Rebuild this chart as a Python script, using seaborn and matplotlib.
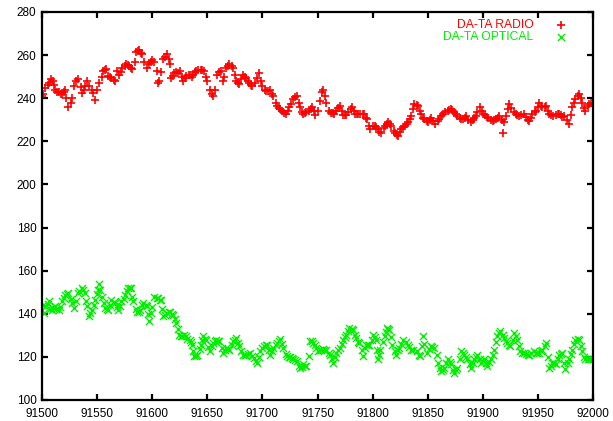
import pandas as pd
import matplotlib
matplotlib.use("Agg")
import matplotlib.pyplot as plt
import seaborn as sns

# === DATA ===
radio_day = [91500, 91501, 91503, 91505, 91506, 91508, 91510, 91511, 91512, 91514, 91515, 91517, 91518, 91520, 91521, 91522, 91524, 91526, 91527, 91529,
             91531, 91533, 91535, 91536, 91538, 91539, 91541, 91543, 91545, 91546, 91548, 91550, 91552, 91554, 91555, 91557, 91558, 91560, 91562, 91563,
             91565, 91566, 91568, 91570, 91572, 91573, 91575, 91576, 91578, 91579, 91581, 91582, 91584, 91585, 91587, 91588, 91590, 91591, 91593, 91595,
             91597, 91599, 91600, 91602, 91604, 91605, 91606, 91608, 91610, 91612, 91613, 91615, 91616, 91617, 91619, 91620, 91622, 91623, 91625, 91627,
             91628, 91630, 91631, 91633, 91634, 91636, 91637, 91639, 91640, 91642, 91644, 91645, 91647, 91649, 91650, 91652, 91654, 91655, 91657, 91659,
             91661, 91662, 91664, 91665, 91667, 91669, 91670, 91672, 91673, 91675, 91676, 91678, 91679, 91681, 91682, 91684, 91685, 91687, 91688, 91690,
             91691, 91693, 91695, 91697, 91699, 91700, 91702, 91703, 91705, 91707, 91709, 91710, 91712, 91713, 91715, 91716, 91718, 91720, 91721, 91723,
             91724, 91726, 91728, 91730, 91731, 91733, 91734, 91736, 91737, 91739, 91740, 91742, 91744, 91745, 91747, 91748, 91750, 91752, 91754, 91755,
             91757, 91758, 91760, 91762, 91764, 91765, 91767, 91769, 91770, 91772, 91773, 91775, 91776, 91778, 91780, 91781, 91783, 91784, 91786, 91787,
             91789, 91791, 91792, 91794, 91795, 91797, 91798, 91800, 91802, 91803, 91805, 91806, 91808, 91810, 91811, 91813, 91814, 91816, 91817, 91819,
             91820, 91822, 91823, 91825, 91826, 91828, 91829, 91831, 91832, 91834, 91835, 91837, 91838, 91840, 91841, 91843, 91844, 91846, 91847, 91849,
             91850, 91852, 91853, 91855, 91857, 91859, 91860, 91862, 91864, 91866, 91868, 91869, 91871, 91872, 91874, 91876, 91877, 91879, 91880, 91882,
             91884, 91885, 91887, 91889, 91891, 91892, 91894, 91895, 91897, 91899, 91900, 91902, 91904, 91905, 91907, 91909, 91910, 91912, 91914, 91915,
             91917, 91918, 91919, 91921, 91923, 91924, 91926, 91928, 91930, 91931, 91933, 91935, 91937, 91939, 91941, 91942, 91944, 91945, 91947, 91948,
             91950, 91951, 91953, 91954, 91956, 91957, 91959, 91960, 91962, 91964, 91966, 91968, 91969, 91971, 91972, 91974, 91976, 91978, 91980, 91981,
             91983, 91984, 91986, 91987, 91989, 91990, 91992, 91993, 91995, 91996, 91998, 92000]
radio_val = [241, 242, 244.6, 246, 247, 249, 248, 246, 244, 243, 243, 242, 242, 243, 243.7, 240, 236, 238, 240, 245.7,
             248, 248.8, 245, 242.6, 244, 245.7, 248, 245.7, 244, 242.6, 239, 243.7, 247, 250, 252.6, 253, 253.4, 250.3, 250, 249.5,
             248.5, 248, 252.6, 250.8, 252, 254, 255, 256, 255.5, 255, 254, 253.4, 257, 261.5, 262, 262.6, 261, 260.3, 257, 254,
             256, 257, 257.5, 257, 252.6, 247, 248, 252, 258, 259, 260.3, 258, 255.7, 249.5, 250.5, 251.8, 252, 251.5, 252.6, 250,
             248, 249.5, 250.3, 251, 251, 250, 251, 252, 252.6, 253, 253, 253, 252.6, 250, 248, 244, 242, 241, 244, 251,
             252, 252.6, 248, 250, 254, 255, 255.7, 255, 254, 251, 248, 247, 246.5, 249, 250.8, 250, 249.5, 248, 247, 246,
             245.7, 247, 249.5, 251.8, 248, 245.7, 244, 243.4, 243.5, 244, 242, 241, 238, 236.5, 235.5, 235, 234, 233, 232.6, 234,
             235.7, 237.5, 239.5, 240.5, 241, 238, 235.7, 233.5, 232.6, 233, 233.4, 234, 235, 235.7, 234, 232, 234, 238.8, 243, 243.7,
             241, 238, 234, 233, 233, 232.6, 234, 235.5, 236.5, 234, 232, 232, 232, 233.5, 235, 235.7, 234, 232.6, 232.6, 232.6,
             232.6, 232.6, 232.6, 231, 230.3, 227, 225.7, 227, 227, 226.8, 225.5, 224.5, 224, 226, 227, 228, 228.8, 228, 227, 225,
             224, 223, 222.6, 224.5, 225.7, 226.5, 227, 228, 228.8, 230.5, 231.8, 235, 237.2, 237, 236.5, 234, 232.6, 231, 230.3, 229.5,
             228.8, 230, 231, 229.5, 228, 229.5, 230.5, 231.8, 232.5, 233.4, 234, 234.5, 235, 234.5, 233.4, 232.5, 231.8, 231, 230.5, 230.3,
             231, 231.8, 230, 228.8, 230, 231, 231.8, 233.5, 235.7, 234, 232.6, 232, 231.5, 231, 230, 229.5, 230, 230.3, 231, 231.8,
             230, 224, 228.8, 231.8, 235, 237.2, 235.5, 233.4, 232.5, 232, 231.8, 232, 232.6, 231.5, 230, 229.5, 231, 232.6, 233.5, 234,
             236, 238, 236.5, 235.7, 236, 236.5, 234, 232.6, 232, 231.8, 232, 232.5, 232.6, 232, 231.5, 231.8, 230, 228, 232, 235.7,
             238, 239.5, 241, 242, 240, 238, 235.5, 234, 236.5, 237.5, 238, 237.2]

optical_day = [91500, 91501, 91502, 91503, 91505, 91506, 91507, 91509, 91510, 91512, 91513, 91515, 91516, 91518, 91520, 91521, 91523, 91524, 91526, 91527,
               91529, 91531, 91533, 91534, 91536, 91537, 91539, 91540, 91541, 91543, 91544, 91545, 91547, 91548, 91550, 91551, 91552, 91553, 91554, 91556,
               91557, 91559, 91560, 91562, 91563, 91565, 91566, 91568, 91569, 91571, 91572, 91574, 91575, 91577, 91578, 91580, 91581, 91582, 91583, 91585,
               91586, 91588, 91589, 91591, 91592, 91594, 91595, 91596, 91597, 91599, 91600, 91602, 91604, 91605, 91607, 91608, 91609, 91610, 91612, 91613,
               91615, 91616, 91618, 91619, 91621, 91622, 91623, 91624, 91626, 91627, 91629, 91631, 91632, 91634, 91635, 91636, 91637, 91638, 91640, 91641,
               91643, 91644, 91645, 91646, 91648, 91649, 91651, 91652, 91654, 91655, 91657, 91658, 91660, 91661, 91663, 91664, 91666, 91667, 91669, 91670,
               91672, 91673, 91675, 91676, 91678, 91679, 91681, 91682, 91684, 91685, 91687, 91689, 91691, 91692, 91694, 91695, 91697, 91698, 91700, 91701,
               91703, 91704, 91706, 91707, 91709, 91710, 91712, 91713, 91715, 91716, 91718, 91719, 91721, 91722, 91724, 91725, 91727, 91728, 91730, 91731,
               91733, 91734, 91736, 91737, 91739, 91740, 91742, 91743, 91745, 91746, 91748, 91749, 91750, 91752, 91753, 91755, 91756, 91758, 91760, 91761,
               91763, 91764, 91766, 91767, 91769, 91770, 91772, 91773, 91775, 91776, 91778, 91779, 91781, 91782, 91784, 91785, 91787, 91788, 91790, 91791,
               91793, 91794, 91796, 91797, 91799, 91800, 91802, 91803, 91804, 91805, 91806, 91807, 91809, 91811, 91812, 91813, 91814, 91815, 91817, 91818,
               91820, 91821, 91823, 91824, 91826, 91828, 91830, 91832, 91833, 91835, 91837, 91840, 91842, 91843, 91845, 91846, 91847, 91849, 91851, 91853,
               91854, 91856, 91858, 91859, 91861, 91862, 91864, 91865, 91867, 91868, 91870, 91871, 91873, 91874, 91876, 91877, 91879, 91880, 91882, 91883,
               91885, 91886, 91888, 91889, 91891, 91892, 91894, 91895, 91897, 91898, 91900, 91901, 91903, 91904, 91906, 91907, 91909, 91910, 91912, 91913,
               91915, 91916, 91918, 91919, 91921, 91922, 91924, 91925, 91927, 91928, 91930, 91931, 91933, 91934, 91936, 91937, 91939, 91941, 91942, 91944,
               91946, 91948, 91949, 91951, 91953, 91954, 91956, 91957, 91959, 91960, 91962, 91963, 91965, 91966, 91968, 91969, 91971, 91972, 91974, 91975,
               91977, 91978, 91980, 91981, 91983, 91984, 91986, 91987, 91989, 91990, 91992, 91993, 91995, 91996, 91998, 92000]
optical_val = [141.8, 144, 140.5, 143.4, 144.5, 146, 142, 141.8, 142.5, 143.4, 142, 141.8, 143, 145.7, 147.5, 148.8, 149, 149.5, 147, 144.9,
               142.6, 146, 149.5, 150.5, 151.8, 151, 149.5, 146, 143.4, 138.8, 140.5, 141.8, 144, 146.5, 149, 151, 154, 151, 148, 145,
               142.6, 142, 141.8, 144, 146.5, 145.5, 144.9, 143, 141.8, 143.5, 145.7, 147, 148.8, 150.5, 151.8, 152, 151.8, 148, 145.7, 142,
               140.6, 141, 141.8, 144, 145.2, 144, 143.4, 140, 136.5, 140.3, 143, 148, 147.5, 147.2, 146.5, 146.5, 142, 138.8, 139.5, 140.3,
               141, 141, 140, 139.5, 137.5, 135.7, 133, 130.3, 129.5, 129.5, 130, 129.5, 128.5, 128, 127, 125.7, 122.5, 120.3, 120.5, 121,
               123.5, 125.7, 128, 129.5, 128.5, 128, 124.5, 122.6, 125, 126.5, 127.5, 128, 127.5, 127.2, 124, 121.8, 123, 124, 123.5, 123.4,
               125.5, 127.2, 128, 128.8, 126.5, 124.9, 122.5, 121, 121, 121, 121.5, 121.8, 120.5, 119.5, 118, 117.2, 120, 122.6, 124, 124.9,
               125.5, 125.7, 123, 121, 122.5, 124, 125.5, 126.5, 127.5, 128.3, 126, 124, 121.5, 120.3, 120, 120, 119.5, 118.8, 118.5, 118,
               116, 115, 115.5, 116.5, 116, 115.7, 120.3, 127.2, 127.2, 126.5, 125.7, 124, 122.6, 123, 123.4, 123.5, 123, 123.4, 122, 121,
               119, 117.2, 120, 121.8, 123, 124, 126, 128, 129, 130.3, 132, 133.4, 133, 132.6, 130, 128.8, 127, 126.5, 123, 120.3,
               124, 125.7, 125.5, 125.7, 128, 130.3, 129, 128, 123, 118.8, 121, 123.4, 127, 129.5, 131.5, 133.4, 133, 132.6, 129, 125.7,
               122.5, 121, 123, 124, 126, 128, 127, 125.7, 124.5, 123.4, 123, 122.6, 121, 120.3, 125, 129.5, 126, 121.8, 123.5, 124.9,
               124.5, 124, 121, 117.2, 115, 113.4, 114, 115, 117, 118.8, 117.5, 116.5, 114, 112.6, 114, 115, 119, 122.6, 122, 121,
               120, 118.8, 116.5, 115, 117, 118.8, 120, 121, 119, 117.2, 118, 118.8, 117, 115.7, 117.5, 118.8, 121, 123.4, 127, 129.5,
               131, 131.8, 130, 128.8, 127.5, 126.5, 125.5, 124.9, 128, 131, 129.5, 128, 125, 122.6, 122, 121.8, 121.5, 121, 121, 122,
               122.6, 122, 122, 121.8, 122.5, 123.4, 125, 126.5, 120, 115, 116, 117.2, 117, 116.5, 119, 121, 121.5, 121.8, 117, 114.3,
               117, 118.8, 121.5, 123.4, 126, 128, 128.5, 128, 125, 122.6, 120, 118.8, 119, 118.8, 119, 118.8]

radio_label = "DA-TA RADIO"
optical_label = "DA-TA OPTICAL"

radio_df = pd.DataFrame({"day": radio_day, "value": radio_val})
optical_df = pd.DataFrame({"day": optical_day, "value": optical_val})

# === STYLE ===
sns.set_style("ticks")
plt.rcParams["font.family"] = ["Liberation Sans", "DejaVu Sans"]

fig = plt.figure(figsize=(6.13, 4.21), dpi=100)
ax = fig.add_axes([0.0685, 0.0499, 0.8989, 0.9216])

sns.scatterplot(data=radio_df, x="day", y="value", ax=ax, marker="+", color="#ff0000",
                s=34, linewidth=1.2, label=radio_label)
sns.scatterplot(data=optical_df, x="day", y="value", ax=ax, marker="x", color="#00ee00",
                s=26, linewidth=1.0, label=optical_label)

ax.set_xlim(91500, 92000)
ax.set_ylim(100, 280)
ax.set_xticks(range(91500, 92001, 50))
ax.set_yticks(range(100, 281, 20))
ax.set_xlabel("")
ax.set_ylabel("")

for sp in ax.spines.values():
    sp.set_linewidth(1.6)
    sp.set_color("black")
ax.tick_params(direction="in", length=4, width=1.6, top=True, right=True,
               labelsize=8.5, pad=4, colors="black")
ax.tick_params(axis="x", pad=6)

leg = ax.legend(loc="upper right", bbox_to_anchor=(0.995, 1.026), frameon=False,
                markerfirst=False, fontsize=8.7, handletextpad=1.3, labelspacing=0.05,
                borderaxespad=1.0, labelcolor=["#ff0000", "#00ee00"])

fig.savefig("out.png", dpi=100)
